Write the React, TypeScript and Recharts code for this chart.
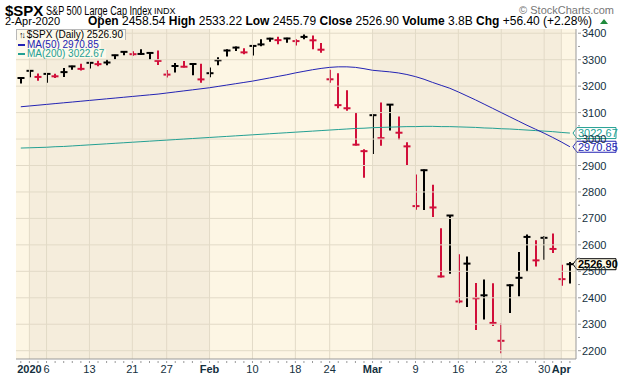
import React from 'react';
import { ComposedChart, Bar, Line, XAxis, YAxis, ReferenceLine, ReferenceArea } from 'recharts';

const dates = ['2019-12-31','2020-01-02','2020-01-03','2020-01-06','2020-01-07','2020-01-08','2020-01-09','2020-01-10','2020-01-13','2020-01-14','2020-01-15','2020-01-16','2020-01-17','2020-01-21','2020-01-22','2020-01-23','2020-01-24','2020-01-27','2020-01-28','2020-01-29','2020-01-30','2020-01-31','2020-02-03','2020-02-04','2020-02-05','2020-02-06','2020-02-07','2020-02-10','2020-02-11','2020-02-12','2020-02-13','2020-02-14','2020-02-18','2020-02-19','2020-02-20','2020-02-21','2020-02-24','2020-02-25','2020-02-26','2020-02-27','2020-02-28','2020-03-02','2020-03-03','2020-03-04','2020-03-05','2020-03-06','2020-03-09','2020-03-10','2020-03-11','2020-03-12','2020-03-13','2020-03-16','2020-03-17','2020-03-18','2020-03-19','2020-03-20','2020-03-23','2020-03-24','2020-03-25','2020-03-26','2020-03-27','2020-03-30','2020-03-31','2020-04-01','2020-04-02'];

const highs = [3231.72,3258.14,3246.15,3246.84,3244.91,3267.07,3275.58,3282.99,3288.13,3294.25,3298.66,3317.11,3329.88,3329.79,3337.77,3326.88,3333.18,3258.85,3285.78,3293.47,3285.91,3282.33,3268.44,3306.92,3337.58,3347.96,3341.42,3352.26,3375.63,3381.47,3385.09,3380.69,3375.01,3393.52,3389.15,3360.76,3259.81,3246.99,3182.51,3097.07,2959.72,3090.96,3136.72,3130.94,3083.04,2985.93,2863.89,2882.59,2825.60,2660.95,2711.33,2562.98,2553.93,2453.57,2466.97,2453.01,2300.73,2449.71,2571.42,2637.01,2615.91,2631.80,2641.39,2522.75,2533.22];

const lows = [3212.03,3235.53,3222.34,3214.64,3232.43,3236.67,3263.67,3260.86,3268.43,3277.19,3280.69,3302.82,3318.86,3316.61,3320.04,3301.87,3281.53,3234.50,3253.22,3271.89,3242.80,3214.68,3235.66,3280.61,3313.75,3334.39,3322.12,3317.77,3352.72,3369.72,3360.52,3366.15,3355.61,3378.83,3341.02,3328.45,3214.65,3118.77,3108.99,2977.39,2855.84,2945.19,2976.63,3034.38,2999.83,2901.54,2734.43,2734.00,2707.22,2478.86,2492.37,2380.94,2367.04,2280.52,2319.78,2295.56,2191.86,2344.44,2407.53,2500.72,2520.02,2545.28,2571.15,2447.49,2455.79];

const closes = [3230.78,3257.85,3234.85,3246.28,3237.18,3253.05,3274.70,3265.35,3288.13,3283.15,3289.29,3316.81,3329.62,3320.79,3321.75,3325.54,3295.47,3243.63,3276.24,3273.40,3283.66,3225.52,3248.92,3297.59,3334.69,3345.78,3327.71,3352.09,3357.75,3379.45,3373.94,3380.16,3370.29,3386.15,3373.23,3337.75,3225.89,3128.21,3116.39,2978.76,2954.22,3090.23,3003.37,3130.12,3023.94,2972.37,2746.56,2882.23,2741.38,2480.64,2711.02,2386.13,2529.19,2398.10,2409.39,2304.92,2237.40,2447.33,2475.56,2630.07,2541.47,2626.65,2584.59,2470.50,2526.90];

const prevCloseBeforeStart = 3221.29;

const ma50 = [3122,3125,3128,3131,3134,3137,3140,3143,3146,3149,3152,3155,3158,3161,3164,3167,3170,3174,3178,3182,3186,3190,3194,3199,3204,3209,3214,3219,3225,3231,3237,3243,3250,3256,3262,3267,3271,3273,3273,3271,3266,3260,3257,3254,3250,3244,3236,3226,3214,3203,3192,3178,3163,3148,3132,3116,3100,3084,3068,3052,3037,3022,3006,2989,2970.85];

const ma200 = [2966,2967,2968,2969,2971,2972,2974,2976,2978,2980,2982,2984,2986,2988,2990,2992,2994,2996,2998,3000,3002,3004,3006,3008,3010,3012,3014,3016,3018,3020,3022,3024,3026,3028,3030,3032,3034,3036,3038,3040,3041,3043,3044,3045,3046,3047,3047,3048,3048,3047,3047,3046,3045,3044,3042,3041,3039,3038,3036,3034,3032,3030,3028,3025,3022.67];

const xTickIdx = [1, 3, 8, 13, 17, 22, 27, 32, 36, 41, 46, 51, 56, 61, 63];
const xTickLabels = ['2020', '6', '13', '21', '27', 'Feb', '10', '18', '24', 'Mar', '9', '16', '23', '30', 'Apr'];
const xTickBold = [true, false, false, false, false, true, false, false, false, true, false, false, false, false, true];

const monthBands = [
  { x1: undefined, x2: 1, fill: '#fdf6e4' },
  { x1: 1, x2: 22, fill: '#f5eddc' },
  { x1: 22, x2: 41, fill: '#fdf6e4' },
  { x1: 41, x2: 63, fill: '#f5eddc' },
  { x1: 63, x2: undefined, fill: '#fdf6e4' },
];

const yMajor = [2200, 2300, 2400, 2500, 2600, 2700, 2800, 2900, 3000, 3100, 3200, 3300, 3400];
const yAllTicks = [2200, 2250, 2300, 2350, 2400, 2450, 2500, 2550, 2600, 2650, 2700, 2750, 2800, 2850, 2900, 2950, 3000, 3050, 3100, 3150, 3200, 3250, 3300, 3350, 3400];
const yDomain = [2168.6, 3416];
const xDomain = [-0.56, 64.71];

const RED = '#d10f3a';
const MA50C = '#2323b4';
const MA200C = '#23a093';
const AXC = '#14303e';

const data = closes.map((c, i) => ({
  i,
  date: dates[i],
  high: highs[i],
  low: lows[i],
  close: c,
  range: [lows[i], highs[i]],
  up: c >= (i === 0 ? prevCloseBeforeStart : closes[i - 1]),
  ma50: ma50[i],
  ma200: ma200[i],
}));

const HLC = (props: any) => {
  const { x, y, width, height } = props;
  const p = props.payload || props;
  const cx = Math.round(x + width / 2);
  const top = Math.min(y, y + height);
  const h = Math.abs(height);
  const cy = p.high === p.low ? top : top + ((p.high - p.close) / (p.high - p.low)) * h;
  const col = p.up ? '#000' : RED;
  return (
    <g>
      <line x1={cx} x2={cx} y1={top - 0.5} y2={top + h + 0.5} stroke={col} strokeWidth={2} />
      <line x1={cx - 3.5} x2={cx + 3.5} y1={cy} y2={cy} stroke={col} strokeWidth={2} />
    </g>
  );
};

const XTick = (props: any) => {
  const { x, y, payload } = props;
  const k = xTickIdx.indexOf(payload.value);
  return (
    <g>
      <line x1={x} x2={x} y1={y} y2={y + 2} stroke="#9a9a9a" strokeWidth={1} />
      {k >= 0 && (
        <text x={x} y={y + 12} textAnchor="middle" fontSize={11} fontWeight={xTickBold[k] ? 'bold' : 'normal'} fill={AXC} fontFamily="'Liberation Sans', Arial, sans-serif">
          {xTickLabels[k]}
        </text>
      )}
    </g>
  );
};

const YTick = (props: any) => {
  const { x, y, payload } = props;
  const major = payload.value % 100 === 0;
  return (
    <g>
      <line x1={x} x2={x + (major ? 3 : 2)} y1={y} y2={y} stroke="#9a9a9a" strokeWidth={1} />
      {major && (
        <text x={x + 4} y={y + 4} textAnchor="start" fontSize={11} fill={AXC} fontFamily="'Liberation Sans', Arial, sans-serif">
          {payload.value}
        </text>
      )}
    </g>
  );
};

const makeValueLabel = (text: string, color: string, bg: string, bold: boolean) => (props: any) => {
  const vb = props.viewBox || {};
  const x0 = (vb.x || 0) + (vb.width || 0) - 3;
  const y0 = vb.y || 0;
  const w = 43;
  const hh = 5.5;
  const pts = `${x0},${y0} ${x0 + 4},${y0 - hh} ${x0 + w},${y0 - hh} ${x0 + w},${y0 + hh} ${x0 + 4},${y0 + hh}`;
  return (
    <g>
      <polygon points={pts} fill={bg} stroke={color} strokeWidth={1} />
      <text x={x0 + 5} y={y0 + 4} fontSize={11} fontWeight={bold ? 'bold' : 'normal'} fill={color} fontFamily="'Liberation Sans', Arial, sans-serif">
        {text}
      </text>
    </g>
  );
};

const lastIdx = closes.length - 1;

export default function App() {
  const font = "'Liberation Sans', Arial, sans-serif";
  return (
    <div style={{ position: 'absolute', left: 0, top: 0, width: 620, height: 376, background: '#fff', fontFamily: font, overflow: 'hidden' }}>
      <ComposedChart width={620} height={376} data={data} margin={{ top: 29, right: 0, bottom: 0, left: 16 }}>
        {monthBands.map((b, k) => (
          <ReferenceArea key={'mb' + k} x1={b.x1} x2={b.x2} fill={b.fill} fillOpacity={1} stroke="none" ifOverflow="hidden" />
        ))}
        {yMajor.map((v) => (
          <ReferenceLine key={'hy' + v} y={v} stroke="#e2dac7" strokeWidth={1} />
        ))}
        {xTickIdx.map((v) => (
          <ReferenceLine key={'vx' + v} x={v} stroke="#e2dac7" strokeWidth={1} />
        ))}
        <XAxis
          dataKey="i"
          type="number"
          domain={xDomain}
          allowDataOverflow
          ticks={data.map((d) => d.i)}
          interval={0}
          tick={<XTick />}
          tickLine={false}
          tickSize={0}
          height={17}
          axisLine={{ stroke: '#9a9a9a' }}
        />
        <XAxis xAxisId="top" orientation="top" dataKey="i" type="number" domain={xDomain} allowDataOverflow tick={false} tickLine={false} height={0} axisLine={{ stroke: '#9a9a9a' }} />
        <YAxis
          orientation="right"
          domain={yDomain}
          allowDataOverflow
          ticks={yAllTicks}
          interval={0}
          tick={<YTick />}
          tickLine={false}
          tickSize={0}
          width={44}
          axisLine={{ stroke: '#9a9a9a' }}
        />
        <YAxis yAxisId="left" orientation="left" domain={yDomain} allowDataOverflow tick={false} tickLine={false} width={0} axisLine={{ stroke: '#9a9a9a' }} />
        <Line type="linear" dataKey="ma200" stroke={MA200C} strokeWidth={1} dot={false} isAnimationActive={false} />
        <Line type="linear" dataKey="ma50" stroke={MA50C} strokeWidth={1} dot={false} isAnimationActive={false} />
        <Bar dataKey="range" barSize={7} shape={<HLC />} isAnimationActive={false} />
        <ReferenceLine y={ma200[lastIdx]} stroke="none" label={makeValueLabel(ma200[lastIdx].toFixed(2), MA200C, '#ffffff', false)} />
        <ReferenceLine y={ma50[lastIdx]} stroke="none" label={makeValueLabel(ma50[lastIdx].toFixed(2), MA50C, '#ffffff', false)} />
        <ReferenceLine y={closes[lastIdx]} stroke="none" label={makeValueLabel(closes[lastIdx].toFixed(2), '#000', '#fffbe6', true)} />
      </ComposedChart>

      {/* Header line 1 */}
      <div style={{ position: 'absolute', left: 5, top: 3, whiteSpace: 'nowrap', lineHeight: 1, fontSize: 15, fontWeight: 'bold' }}>$SPX</div>
      <div style={{ position: 'absolute', left: 46, top: 5, whiteSpace: 'nowrap', lineHeight: 1, fontSize: 12, transform: 'scaleX(0.76)', transformOrigin: 'left center' }}>S&amp;P 500 Large Cap Index</div>
      <div style={{ position: 'absolute', left: 154, top: 7, whiteSpace: 'nowrap', lineHeight: 1, fontSize: 9 }}>INDX</div>
      <div style={{ position: 'absolute', right: 6, top: 5, whiteSpace: 'nowrap', lineHeight: 1, fontSize: 11, color: '#777' }}>© StockCharts.com</div>
      {/* Header line 2 */}
      <div style={{ position: 'absolute', left: 5, top: 16, whiteSpace: 'nowrap', lineHeight: 1, fontSize: 11 }}>2-Apr-2020</div>
      <div style={{ position: 'absolute', left: 88, top: 15, whiteSpace: 'nowrap', lineHeight: 1, fontSize: 12 }}>
        <b>Open</b> 2458.54 <b>High</b> 2533.22 <b>Low</b> 2455.79 <b>Close</b> 2526.90 <b>Volume</b> 3.8B <b>Chg</b> +56.40 (+2.28%)
      </div>
      <svg style={{ position: 'absolute', left: 600, top: 18 }} width={9} height={7}>
        <polygon points="0,6 4,1 8,6" fill="#1f8a3c" />
      </svg>

      {/* Legend */}
      <div style={{ position: 'absolute', left: 16, top: 29, fontSize: 10, lineHeight: '9px', whiteSpace: 'nowrap' }}>
        <div style={{ background: 'rgba(253,249,236,0.9)', padding: '0 2px 0 2px', display: 'inline-block', border: '1px solid #b8b8b8', borderWidth: '1px 1px 0 1px' }}>
          <span style={{ fontSize: 9, letterSpacing: -2 }}>↑↓</span> $SPX (Daily) 2526.90
        </div>
        <br />
        <div style={{ background: 'rgba(253,249,236,0.9)', padding: '0 2px', display: 'inline-block', color: MA50C }}>
          <span style={{ display: 'inline-block', width: 7, height: 2, background: MA50C, verticalAlign: 'middle', marginRight: 2 }} />MA(50) 2970.85
        </div>
        <br />
        <div style={{ background: 'rgba(253,249,236,0.9)', padding: '0 2px', display: 'inline-block', color: MA200C }}>
          <span style={{ display: 'inline-block', width: 7, height: 2, background: MA200C, verticalAlign: 'middle', marginRight: 2 }} />MA(200) 3022.67
        </div>
      </div>
    </div>
  );
}
